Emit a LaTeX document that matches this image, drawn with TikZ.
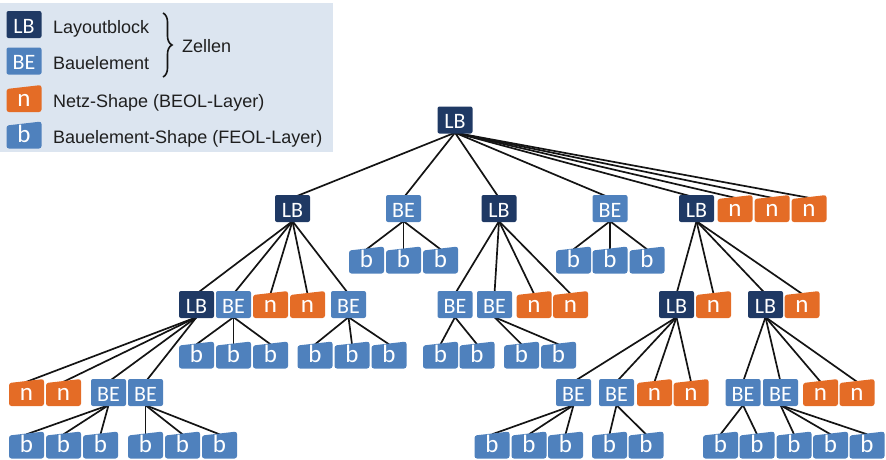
\documentclass[tikz,border=0pt]{standalone}
\usepackage{fontspec}
\setmainfont{Liberation Sans}
\newfontfamily\boxfont{Carlito}
\usetikzlibrary{backgrounds,decorations.pathreplacing}
\definecolor{lbcol}{RGB}{31,57,100}
\definecolor{becol}{RGB}{79,129,189}
\definecolor{ncol}{RGB}{228,108,38}
\definecolor{legbg}{RGB}{220,229,240}
\definecolor{edgecol}{RGB}{20,20,20}
\tikzset{
 cell/.style={rounded corners=2pt, minimum width=35pt, minimum height=27pt, inner sep=0pt,
   text=white, font=\boxfont\fontsize{22}{22}\selectfont, text height=17.5pt, text depth=0pt},
 lbbox/.style={cell, fill=lbcol},
 bebox/.style={cell, fill=becol},
 slant/.style={minimum width=35pt, minimum height=27pt, inner sep=0pt, text=white,
   font=\boxfont\fontsize{25}{25}\selectfont, text height=15.5pt, text depth=0pt,
   path picture={\fill[#1, rounded corners=2.5pt] (path picture bounding box.south west) -- ([yshift=-4pt]path picture bounding box.north west) -- (path picture bounding box.north east) -- (path picture bounding box.south east) -- cycle;}},
 nbox/.style={slant=ncol},
 bbox/.style={slant=becol},
 link/.style={draw=edgecol, line width=1.7pt},
 legtext/.style={anchor=base west, font=\fontsize{18}{20}\selectfont, text=black!88, inner sep=0pt}
}
\begin{document}
\begin{tikzpicture}[x=1pt,y=-1pt]
\useasboundingbox (0,0) rectangle (886,459);
% legend
\fill[legbg] (0,3) rectangle (333,152);
\node[lbbox] (kLB) at (24,24.5) {LB};
\node[bebox] (kBE) at (24,61) {BE};
\node[nbox] (kn) at (24,98.5) {n};
\node[bbox] (kb) at (24,135) {b};
\node[legtext] (tLB) at (53,33) {Layoutblock};
\node[legtext] (tBE) at (53,69.5) {Bauelement};
\node[legtext] (tn) at (53,107) {Netz-Shape (BEOL-Layer)};
\node[legtext] (tb) at (53,143.5) {Bauelement-Shape (FEOL-Layer)};
\draw[line width=1.6pt, edgecol, decorate, decoration={brace, amplitude=9pt}] (163,13) -- (163,77);
\node[legtext] (tZ) at (182,52.5) {Zellen};
% root
\node[lbbox] (r) at (455,120) {LB};
% level 1
\node[lbbox] (a1) at (292.5,208.5) {LB};
\node[bebox] (a2) at (403.5,208.5) {BE};
\node[lbbox] (a3) at (499,208.5) {LB};
\node[bebox] (a4) at (610,208.5) {BE};
\node[lbbox] (a5) at (696.5,208.5) {LB};
\node[nbox] (a6) at (735,208.5) {n};
\node[nbox] (a7) at (772,208.5) {n};
\node[nbox] (a8) at (809,208.5) {n};
% b under a2, a4
\node[bbox] (ba1) at (366.5,260) {b};
\node[bbox] (ba2) at (403.5,260) {b};
\node[bbox] (ba3) at (440.5,260) {b};
\node[bbox] (bb1) at (573.5,260) {b};
\node[bbox] (bb2) at (610,260) {b};
\node[bbox] (bb3) at (647,260) {b};
% level 2
\node[lbbox] (c1) at (196.5,304.5) {LB};
\node[bebox] (c2) at (233.5,304.5) {BE};
\node[nbox] (c3) at (270.5,304.5) {n};
\node[nbox] (c4) at (307.5,304.5) {n};
\node[bebox] (c5) at (348.5,304.5) {BE};
\node[bebox] (c6) at (455,304.5) {BE};
\node[bebox] (c7) at (494.5,304.5) {BE};
\node[nbox] (c8) at (534,304.5) {n};
\node[nbox] (c9) at (570.5,304.5) {n};
\node[lbbox] (c10) at (676.5,304.5) {LB};
\node[nbox] (c11) at (713.5,304.5) {n};
\node[lbbox] (c12) at (765.5,304.5) {LB};
\node[nbox] (c13) at (802,304.5) {n};
% b row under level 2
\node[bbox] (bc1) at (196.5,355) {b};
\node[bbox] (bc2) at (233.5,355) {b};
\node[bbox] (bc3) at (270.5,355) {b};
\node[bbox] (bd1) at (315,355) {b};
\node[bbox] (bd2) at (352,355) {b};
\node[bbox] (bd3) at (389,355) {b};
\node[bbox] (be1) at (440.5,355) {b};
\node[bbox] (be2) at (477,355) {b};
\node[bbox] (bf1) at (521.5,355) {b};
\node[bbox] (bf2) at (558.5,355) {b};
% level 3
\node[nbox] (d1) at (26.5,392.5) {n};
\node[nbox] (d2) at (63.5,392.5) {n};
\node[bebox] (d3) at (108.5,392.5) {BE};
\node[bebox] (d4) at (145.5,392.5) {BE};
\node[bebox] (d5) at (573.5,392.5) {BE};
\node[bebox] (d6) at (616.5,392.5) {BE};
\node[nbox] (d7) at (654.5,392.5) {n};
\node[nbox] (d8) at (691,392.5) {n};
\node[bebox] (d9) at (743,392.5) {BE};
\node[bebox] (d10) at (780.5,392.5) {BE};
\node[nbox] (d11) at (820.5,392.5) {n};
\node[nbox] (d12) at (857,392.5) {n};
% b row under level 3
\node[bbox] (bg1) at (26.5,445) {b};
\node[bbox] (bg2) at (63.5,445) {b};
\node[bbox] (bg3) at (100.5,445) {b};
\node[bbox] (bh1) at (145.5,445) {b};
\node[bbox] (bh2) at (182.5,445) {b};
\node[bbox] (bh3) at (219.5,445) {b};
\node[bbox] (bi1) at (492,445) {b};
\node[bbox] (bi2) at (529,445) {b};
\node[bbox] (bi3) at (565.5,445) {b};
\node[bbox] (bj1) at (609.5,445) {b};
\node[bbox] (bj2) at (646,445) {b};
\node[bbox] (bk1) at (720.5,445) {b};
\node[bbox] (bk2) at (757,445) {b};
\node[bbox] (bl1) at (794,445) {b};
\node[bbox] (bl2) at (830.5,445) {b};
\node[bbox] (bl3) at (867,445) {b};
% connectors
\begin{scope}[on background layer]
\foreach \p/\c in {r/a1,r/a2,r/a3,r/a4,r/a5,r/a6,r/a7,r/a8,
  a2/ba1,a2/ba2,a2/ba3,a4/bb1,a4/bb2,a4/bb3,
  a1/c1,a1/c2,a1/c3,a1/c4,a1/c5,
  a3/c6,a3/c7,a3/c8,a3/c9,
  a5/c10,a5/c11,a5/c12,a5/c13,
  c2/bc1,c2/bc2,c2/bc3,c5/bd1,c5/bd2,c5/bd3,c6/be1,c6/be2,c7/bf1,c7/bf2,
  c1/d1,c1/d2,c1/d3,c1/d4,
  c10/d5,c10/d6,c10/d7,c10/d8,
  c12/d9,c12/d10,c12/d11,c12/d12,
  d3/bg1,d3/bg2,d3/bg3,d4/bh1,d4/bh2,d4/bh3,
  d5/bi1,d5/bi2,d5/bi3,d6/bj1,d6/bj2,
  d9/bk1,d9/bk2,d10/bl1,d10/bl2,d10/bl3}
  \draw[link] ([yshift=1pt]\p.south) -- ([yshift=-3pt]\c.north);
\end{scope}
\end{tikzpicture}
\end{document}
